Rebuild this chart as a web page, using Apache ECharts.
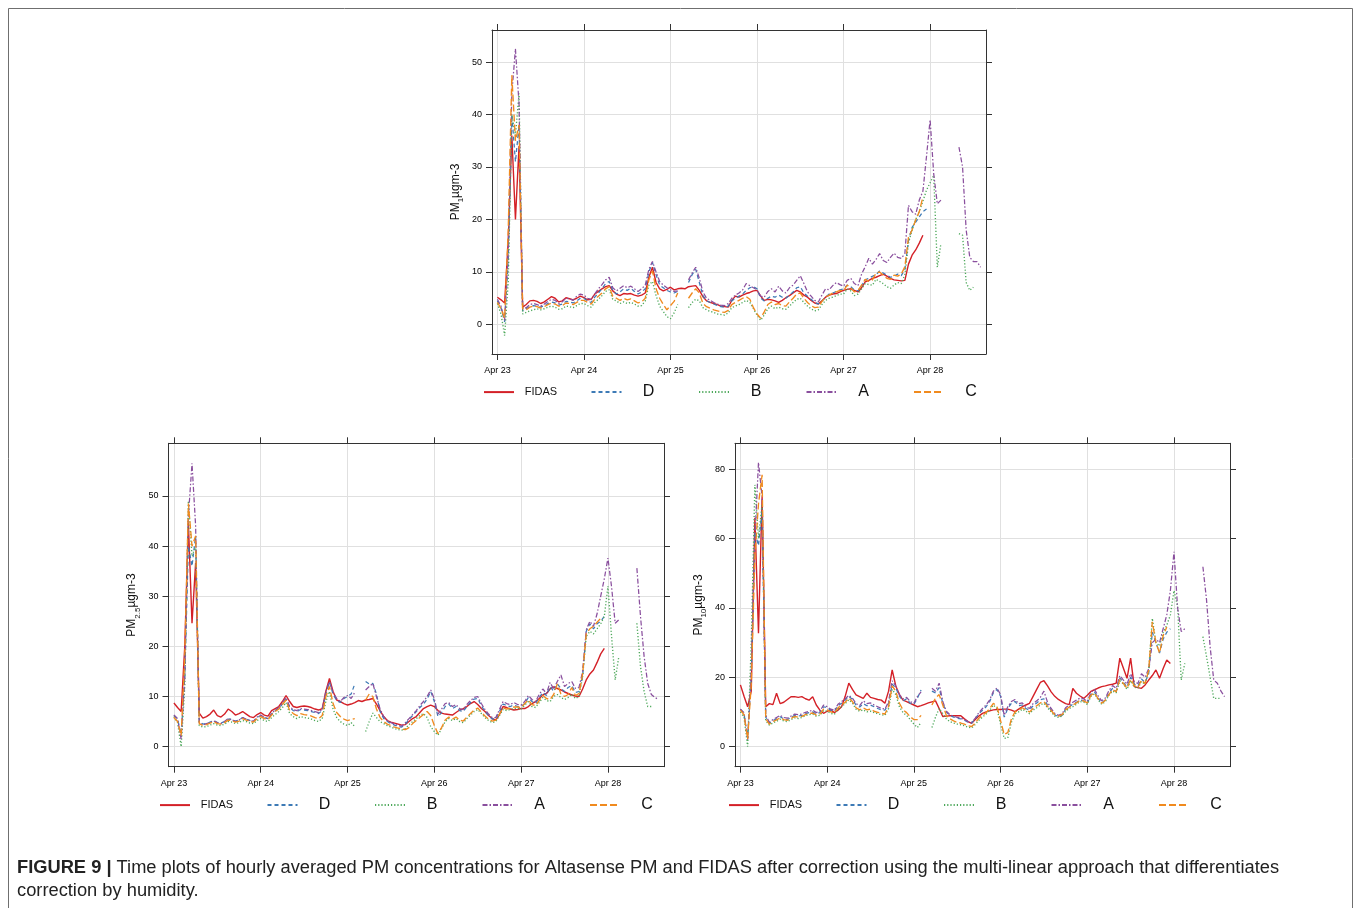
<!DOCTYPE html>
<html><head><meta charset="utf-8">
<script src="https://cdn.jsdelivr.net/npm/echarts@6/dist/echarts.min.js"></script>
<style>html,body{margin:0;padding:0;background:#fff}#c{width:1356px;height:908px}</style>
</head><body><div id="c"></div><script>
// hourly values, index = hours since Apr 23 00:00
const DAY_LABELS = ['Apr 23','Apr 24','Apr 25','Apr 26','Apr 27','Apr 28'];
const DAY_TICKS = [0,24,48,72,96,120];
const SERIES_NAMES = ['FIDAS','D','B','A','C'];
const PM1_TICKS = [0,10,20,30,40,50];
const PM25_TICKS = [0,10,20,30,40,50];
const PM10_TICKS = [0,20,40,60,80];

const PM1_FIDAS = [5.2,4.7,4.1,16,36,20,34,3.3,3.8,4.5,4.6,4.4,4.0,4.3,4.8,5.3,5.0,4.3,4.5,5.1,4.9,4.7,5.0,5.4,
5.1,4.7,4.8,5.8,6.3,6.8,7.2,7.4,6.4,5.8,5.5,5.9,5.8,5.9,5.6,5.4,5.6,6.0,9.0,10.9,8.0,6.8,6.4,6.7,
7.1,6.6,6.8,6.9,6.8,7.2,7.3,7.4,6.5,5.3,4.5,4.2,4.0,3.8,3.5,3.4,3.3,4.6,5.4,5.2,5.6,5.9,6.1,6.4,
6.5,5.4,4.6,4.8,4.7,4.5,4.2,4.6,5.1,5.5,6.0,6.5,6.2,5.6,5.2,4.6,4.1,3.9,4.5,5.2,5.6,5.8,5.9,6.2,
6.5,6.7,6.8,6.5,6.2,7.0,8.1,8.4,8.8,9.0,9.3,9.6,9.2,8.8,8.5,8.4,8.3,8.4,11.5,13.2,14.2,15.5,17.0];
const PM1_D = [4.5,3.2,0.5,12,40,31,38,2.6,3.0,3.4,3.6,3.5,3.3,3.6,4.0,4.3,4.1,3.7,3.9,4.4,4.3,4.1,4.5,5.0,
5.0,4.5,4.2,5.2,6.0,6.8,7.8,8.2,6.5,5.8,6.2,6.8,6.5,6.9,6.3,5.8,6.2,6.8,10.0,11.8,9.5,7.5,7.0,6.5,
6.2,6.0,6.3,null,null,8.0,9.5,10.5,8.0,5.5,4.5,4.2,3.9,3.6,3.4,3.3,3.5,4.5,5.0,5.4,5.8,6.5,7.0,7.2,
6.8,5.0,4.5,5.0,5.4,5.2,5.6,5.2,5.0,5.6,6.2,7.0,7.2,6.0,5.4,4.8,4.2,3.9,4.5,5.2,5.8,6.0,6.3,6.6,
6.8,7.5,7.2,6.6,6.4,7.4,8.5,8.8,9.2,9.5,10.2,9.8,9.4,9.0,9.2,9.6,9.3,10.5,16.0,18.5,19.5,20.5,21.5,22.0];
const PM1_B = [4.0,2.0,-2.1,8,40,36,44,2.0,2.3,2.6,2.8,3.0,2.8,3.0,3.3,3.5,3.3,2.9,3.0,3.5,3.4,3.2,3.6,4.0,
4.0,3.6,3.3,4.2,4.8,5.5,6.3,6.6,4.8,4.5,4.0,4.3,4.0,4.2,3.9,3.5,3.6,4.5,7.5,8.2,5.5,3.5,2.5,1.5,
1.1,2.2,3.8,null,null,3.2,4.2,4.8,4.5,3.2,2.8,2.5,2.3,2.0,1.9,1.8,2.2,3.2,3.5,3.8,4.2,4.6,4.2,3.0,
1.8,0.8,1.8,3.0,3.5,3.0,3.3,3.0,2.9,3.5,4.2,4.8,5.0,4.2,3.5,3.0,2.6,2.8,3.8,4.6,5.0,5.2,5.5,5.8,
5.8,6.8,6.4,5.5,5.8,6.8,7.8,7.6,7.5,8.6,8.2,7.8,7.2,6.9,7.5,8.0,7.8,9.5,15.5,18.0,20.0,21.5,23.5,25.6,
27.0,28.4,10.9,15.4,null,null,null,null,17.3,17.0,8.0,6.5,7.1];
const PM1_A = [4.8,3.5,0.8,14,44,52.5,42,3.0,3.2,3.8,4.0,3.8,3.5,3.9,4.4,4.8,4.6,4.0,4.3,5.0,4.9,4.6,5.4,5.8,
5.6,5.0,4.8,5.8,6.8,7.6,8.5,9.0,7.0,6.4,6.9,7.4,7.0,7.3,6.8,6.3,6.8,7.5,10.5,12.0,10.0,8.2,7.5,7.0,
6.6,6.3,6.4,null,null,8.5,9.8,10.9,8.8,6.2,5.0,4.6,4.2,3.9,3.7,3.6,4.0,5.0,5.6,6.0,6.6,7.8,7.4,7.0,
6.6,5.4,5.2,6.3,6.8,6.2,7.3,6.4,6.0,7.0,7.5,8.4,9.3,7.8,6.2,5.4,4.6,4.3,5.6,6.8,6.6,7.4,8.0,7.6,
7.3,8.4,8.8,7.8,7.4,9.6,11.0,12.6,11.5,12.4,13.5,12.2,11.8,12.8,13.6,12.8,12.6,13.5,22.7,21.5,21.0,23.7,25.4,32.0,
39.0,28.7,23.0,23.7,null,null,null,null,33.8,30.0,18.0,12.8,12.0,12.0,10.9];
const PM1_C = [4.2,3.0,1.2,18,47.5,35,38,3.0,2.8,3.3,3.5,3.4,3.1,3.4,3.8,4.1,3.9,3.5,3.6,4.1,4.0,3.8,4.2,4.6,
4.6,4.2,3.9,4.8,5.4,6.0,6.8,7.2,5.4,5.0,4.6,5.0,4.7,4.9,4.5,4.1,4.3,5.0,8.5,10.2,6.8,5.0,3.8,2.8,
3.6,4.4,6.0,null,null,5.0,6.0,6.8,6.0,4.0,3.4,3.1,2.8,2.6,2.4,2.3,2.7,3.8,4.2,4.6,5.0,5.3,4.8,3.2,
2.0,1.2,2.4,3.8,4.3,3.8,4.0,3.6,3.5,4.3,5.0,5.8,6.0,5.0,4.2,3.6,3.2,3.3,4.4,5.2,5.6,6.0,6.2,6.5,
6.4,7.5,7.0,6.2,6.5,7.5,8.6,8.2,8.5,9.8,10.0,9.4,8.8,8.6,9.4,9.2,9.6,11.0,16.6,18.0,19.9,21.5,24.3];

const PM25_FIDAS = [8.7,7.8,7.0,20,44.6,24.6,36.6,6.7,5.7,6.0,6.5,7.3,6.2,5.9,6.5,7.5,7.0,6.3,6.6,7.0,6.5,6.0,5.8,6.4,
6.8,6.3,6.1,7.2,7.6,8.0,9.0,10.2,9.0,8.0,7.8,8.0,8.1,8.0,7.8,7.5,7.3,7.6,11.0,13.6,11.0,9.3,9.0,8.6,
8.3,8.5,8.8,9.2,9.0,9.3,9.4,9.6,8.5,7.2,6.0,5.2,4.9,4.7,4.5,4.3,4.4,5.0,5.6,6.0,6.8,7.6,8.0,8.3,
8.0,7.2,6.7,6.5,6.4,6.3,6.8,7.3,7.6,8.0,8.6,9.0,8.4,7.6,7.0,6.2,5.6,5.3,6.4,8.0,7.8,7.5,7.3,7.4,
7.6,7.6,8.0,8.6,9.0,9.6,10.3,10.6,11.5,11.9,11.6,11.3,10.9,10.6,10.3,10.1,10.0,11.5,13.3,14.5,15.3,16.8,18.5,19.6];
const PM25_D = [6.2,5.5,2.5,14,40,36,42,5.0,4.5,4.6,4.9,5.2,4.8,4.7,5.0,5.5,5.4,5.1,5.3,5.8,5.5,5.2,5.0,5.8,
6.2,5.8,5.6,6.5,7.2,7.6,8.5,9.5,7.8,7.2,7.0,7.4,7.3,7.2,7.0,6.8,6.6,7.2,10.5,12.8,10.5,9.2,8.8,9.6,
10.0,10.5,12.5,null,null,13.0,12.5,12.6,10.5,7.0,5.6,5.0,4.6,4.3,4.0,3.9,4.5,5.4,6.2,7.0,7.8,8.5,9.5,11.0,
9.0,6.0,6.8,8.0,8.5,7.6,8.0,7.2,7.0,8.0,8.8,9.5,9.6,8.2,7.0,6.2,5.5,5.6,7.0,8.5,8.2,8.0,8.3,8.0,
8.0,8.6,9.8,9.0,8.6,9.8,10.8,10.2,12.0,11.0,12.5,11.6,11.0,11.8,12.2,10.8,11.0,14.0,23.0,24.5,23.5,24.5,25.0,26.0];
const PM25_B = [6.0,4.8,0.0,12,49,38,40,4.2,3.9,4.0,4.3,4.6,4.3,4.2,4.5,5.0,4.9,4.6,4.8,5.2,5.0,4.7,4.6,5.2,
5.6,5.2,5.0,5.8,6.4,7.0,7.8,8.8,6.6,6.0,5.6,6.0,5.8,5.7,5.5,5.2,5.0,5.6,9.0,11.0,7.5,5.8,5.0,4.5,
4.2,4.8,4.0,null,null,3.0,5.0,6.7,5.8,5.0,4.6,4.2,3.9,3.6,3.4,3.3,3.6,4.4,5.0,5.6,6.2,6.6,5.8,4.0,
3.0,2.3,3.6,5.0,5.6,5.2,5.6,5.0,4.8,5.6,6.3,7.0,7.4,6.6,5.8,5.2,4.8,5.0,6.2,7.4,7.2,7.4,7.6,7.6,
7.5,8.3,9.0,8.0,7.8,8.8,9.8,9.2,9.0,10.0,10.4,9.8,9.4,9.8,10.5,9.6,10.0,14.0,22.0,23.0,22.5,23.5,24.5,26.0,
32.0,22.0,13.3,17.9,null,null,null,null,24.6,16.0,11.0,8.0,8.0];
const PM25_A = [6.3,5.6,1.5,14,46,56.5,44,4.8,4.3,4.6,4.8,5.1,4.8,4.6,5.0,5.6,5.4,5.0,5.3,5.8,5.5,5.2,5.1,5.9,
6.3,5.8,5.6,6.6,7.3,7.8,8.8,9.8,8.0,7.4,7.2,7.6,7.5,7.4,7.2,7.0,6.8,7.5,11.0,13.0,10.8,9.6,9.0,9.8,
10.2,9.6,10.8,null,null,11.3,12.0,12.6,10.0,7.5,6.0,5.2,4.8,4.5,4.2,4.1,4.8,5.6,6.4,7.2,8.2,9.0,10.0,11.3,
9.5,6.5,7.5,8.6,8.8,8.0,8.4,7.6,7.4,8.4,9.2,9.8,10.0,8.6,7.4,6.5,5.8,5.8,7.4,9.0,8.6,8.4,8.8,8.4,
8.3,9.0,10.2,9.4,9.0,10.4,11.5,10.6,12.8,11.5,13.0,14.3,12.0,12.6,13.0,11.6,11.8,15.0,23.3,25.0,24.0,26.5,30.0,33.5,
37.6,31.9,24.6,25.3,null,null,null,null,35.6,26.0,18.0,12.6,10.4,9.8,9.4];
const PM25_C = [5.8,5.0,2.2,18,48.5,40,42,4.6,4.2,4.4,4.7,5.0,4.6,4.5,4.8,5.3,5.2,4.9,5.1,5.6,5.3,5.0,4.9,5.6,
6.0,5.6,5.4,6.3,7.0,7.5,8.4,9.3,7.2,6.6,6.2,6.6,6.4,6.3,6.1,5.8,5.6,6.2,10.0,12.0,8.6,6.8,6.0,5.5,
5.2,5.4,5.6,null,null,9.3,10.5,10.0,7.5,5.8,5.0,4.5,4.2,3.9,3.7,3.5,3.4,3.8,4.6,5.2,5.8,6.4,7.0,6.2,
4.2,2.6,3.8,5.3,5.9,5.5,5.9,5.3,5.1,5.9,6.6,7.3,7.7,6.9,6.1,5.5,5.1,5.3,6.5,7.7,7.5,7.7,7.9,7.9,
7.8,8.6,9.3,8.4,8.2,9.2,10.2,9.6,9.4,10.4,12.5,10.5,10.0,10.4,11.8,10.2,10.6,14.5,22.5,23.5,24.0,24.8,25.6];

const PM10_FIDAS = [17.8,14.5,11.5,16,66,32.7,72,11.5,12.4,12.1,15.4,12.4,12.8,13.6,14.4,14.4,14.2,14.4,13.8,13.4,14.4,12.0,10.5,9.6,
10.2,10.6,9.8,10.5,11.5,14.5,18.3,16.5,14.9,14.4,13.9,15.4,14.2,13.9,13.6,13.4,12.5,16.0,22.1,17.5,15.0,13.4,13.0,12.5,
12.0,11.5,11.8,12.2,12.6,12.9,13.2,11.0,8.7,8.8,8.9,8.9,8.9,8.9,8.0,7.2,6.7,7.8,8.8,9.6,10.0,10.3,10.6,10.7,
10.7,10.8,10.8,10.5,10.1,10.8,11.5,12.0,12.5,14.5,16.5,18.5,19.0,17.5,15.8,14.5,13.6,13.0,12.4,12.1,16.8,15.4,14.6,13.9,
14.8,15.9,16.4,16.9,17.3,17.5,17.8,18.0,18.3,25.5,22.6,19.7,25.5,17.3,17.0,16.8,17.8,19.2,20.5,22.1,19.7,22.5,25.0,24.0];
const PM10_D = [10.8,9.5,2.5,20,62,58,68,8.5,6.8,7.5,8.0,8.6,8.0,7.8,8.4,9.0,8.8,9.0,9.5,9.8,10.0,9.4,9.8,11.5,
11.2,10.5,10.2,11.8,12.5,13.4,14.5,13.6,12.0,11.4,12.4,11.8,12.0,11.5,11.0,10.6,10.5,12.5,18.0,17.0,14.5,13.2,13.8,12.5,
12.2,14.0,16.3,null,null,16.0,15.5,17.0,12.5,10.0,9.0,8.5,8.2,8.0,7.6,7.0,6.8,8.0,9.5,10.5,11.5,13.0,15.5,16.5,
14.5,8.5,11.0,12.5,13.0,11.8,12.0,11.0,10.5,11.8,12.6,13.5,13.8,12.0,10.5,9.2,8.6,9.0,10.8,11.5,12.2,12.8,13.5,13.2,
12.5,15.0,15.8,14.0,12.6,13.5,15.5,16.8,16.0,19.8,18.5,17.2,20.0,18.0,17.5,19.5,18.5,21.0,33.0,30.0,27.0,31.0,33.0,34.0];
const PM10_B = [10.0,8.5,0.0,30,75.5,60,70,7.5,6.2,6.8,7.3,7.9,7.4,7.2,7.8,8.3,8.1,8.4,8.9,9.2,9.4,8.8,9.0,10.4,
10.2,9.6,9.3,10.8,11.5,12.4,13.5,12.5,10.8,10.2,10.6,10.0,10.2,9.8,9.5,9.2,9.0,11.0,16.5,15.0,11.5,9.8,9.0,7.8,
6.5,5.5,7.0,null,null,5.5,8.5,11.0,9.5,8.0,7.2,6.8,6.5,6.3,6.0,5.6,5.4,6.4,7.6,8.5,9.4,10.5,12.0,11.0,
6.5,2.4,2.5,7.0,9.5,10.0,10.8,10.2,9.5,10.5,11.2,12.0,12.5,11.2,10.0,8.8,8.4,8.8,10.2,11.0,11.5,12.2,13.0,12.8,
12.2,14.5,15.2,13.5,12.2,13.0,14.8,16.0,15.5,19.0,18.0,16.5,19.0,17.2,16.8,18.8,18.0,22.0,37.0,30.0,29.0,33.0,35.0,38.0,
45.0,40.4,19.2,24.0,null,null,null,null,31.7,26.0,20.0,13.9,13.9,13.9];
const PM10_A = [10.8,9.8,2.0,22,60,82,72,9.0,7.0,7.8,8.4,9.0,8.4,8.2,8.8,9.4,9.2,9.4,9.9,10.2,10.5,9.8,10.2,12.0,
11.5,10.8,10.5,12.2,13.0,13.8,14.8,14.0,12.4,11.8,13.2,12.4,12.6,12.0,11.5,11.0,10.8,13.0,19.0,17.5,15.0,13.8,14.2,13.0,
12.5,14.5,15.8,null,null,16.8,16.0,18.3,13.0,10.2,9.2,8.8,8.4,8.2,7.8,7.2,7.0,8.2,9.8,11.0,12.0,13.5,16.0,16.9,
15.0,9.0,11.5,13.0,13.6,12.4,12.6,11.5,11.0,12.4,13.2,14.2,16.0,12.8,11.0,9.6,9.0,9.4,11.2,12.0,12.8,13.4,14.0,13.8,
13.0,15.6,16.5,14.6,13.2,14.0,16.2,17.6,16.8,20.5,19.2,18.0,21.0,18.8,18.2,21.0,20.0,22.5,30.0,31.0,30.0,34.0,38.0,45.0,
56.2,40.0,33.2,34.0,null,null,null,null,51.9,42.4,28.8,19.2,18.3,16.0,14.4];
const PM10_C = [10.5,9.2,2.2,18,55,70,78.4,8.0,6.5,7.2,7.7,8.3,7.8,7.6,8.1,8.7,8.5,8.7,9.2,9.5,9.7,9.1,9.4,10.8,
10.6,10.0,9.7,11.2,12.0,12.8,14.0,13.0,11.2,10.6,11.2,10.6,10.8,10.2,9.9,9.6,9.4,11.6,17.5,16.0,12.5,10.6,9.8,8.6,
7.8,7.8,9.0,null,null,12.0,14.0,15.0,12.0,9.0,8.0,7.4,7.0,6.8,6.5,6.0,5.8,6.8,8.2,9.0,9.8,11.0,12.5,11.6,
7.5,3.5,4.0,8.0,10.0,10.5,11.2,10.6,10.0,11.0,11.8,12.6,13.0,11.6,10.4,9.2,8.8,9.2,10.6,11.4,12.0,12.6,13.4,13.2,
12.6,14.8,15.5,13.8,12.5,13.4,15.0,16.5,15.8,19.4,18.2,16.8,19.5,17.6,17.0,19.2,18.2,22.0,36.0,30.0,27.0,32.0,34.5];

// ---------- styling / layout ----------
const FONT = "'Liberation Sans Narrow','Liberation Sans',Arial,sans-serif";
const CAP_FONT = "'Liberation Sans',Arial,sans-serif";
const STYLE = {
  FIDAS: {color:'#d42027', type:'solid', width:1.4},
  D: {color:'#3d7ab6', type:[4,3], width:1.25},
  B: {color:'#4da85a', type:[1.2,2], width:1.35},
  A: {color:'#8a4f9e', type:[5,2,1.5,2], width:1.25},
  C: {color:'#f08a1e', type:[7,3], width:1.35}
};
const X_MIN = -1.5, X_MAX = 135.5;
const LEGEND_PITCH = 107.5;
const panels = [
  {grid:{left:492, top:30, width:494, height:324}, yMin:-5.62, yMax:56.1, ticks:PM1_TICKS, sub:'1',
   legend:{left:483, top:384}, data:[PM1_FIDAS,PM1_D,PM1_B,PM1_A,PM1_C]},
  {grid:{left:168.5, top:443.3, width:495.5, height:323.4}, yMin:-4.0, yMax:60.5, ticks:PM25_TICKS, sub:'2.5',
   legend:{left:159, top:797}, data:[PM25_FIDAS,PM25_D,PM25_B,PM25_A,PM25_C]},
  {grid:{left:735, top:443.3, width:495, height:323.4}, yMin:-5.8, yMax:87.5, ticks:PM10_TICKS, sub:'10',
   legend:{left:728, top:797}, data:[PM10_FIDAS,PM10_D,PM10_B,PM10_A,PM10_C]}
];

const grid=[], xAxis=[], yAxis=[], series=[], legend=[];
const axLine = {show:true, onZero:false, lineStyle:{color:'#333', width:1}};
const tickStyle = {color:'#333', width:1};
panels.forEach((p, g) => {
  grid.push(Object.assign({show:false}, p.grid));
  xAxis.push({gridIndex:g, type:'value', position:'bottom', min:X_MIN, max:X_MAX,
    axisLine:axLine,
    axisTick:{show:true, customValues:DAY_TICKS, length:6, lineStyle:tickStyle},
    axisLabel:{show:true, customValues:DAY_TICKS, formatter:v=>DAY_LABELS[Math.round(v/24)],
      fontSize:9, color:'#000', margin:12.5, fontFamily:FONT},
    splitLine:{show:true, lineStyle:{color:'#e0e0e0', width:1}}});
  xAxis.push({gridIndex:g, type:'value', position:'top', min:X_MIN, max:X_MAX,
    axisLine:axLine,
    axisTick:{show:true, customValues:DAY_TICKS, length:6, lineStyle:tickStyle},
    axisLabel:{show:false}, splitLine:{show:false}});
  yAxis.push({gridIndex:g, type:'value', position:'left', min:p.yMin, max:p.yMax,
    axisLine:axLine,
    axisTick:{show:true, customValues:p.ticks, length:6, lineStyle:tickStyle},
    axisLabel:{show:true, customValues:p.ticks, fontSize:9, color:'#000', margin:10, fontFamily:FONT},
    splitLine:{show:true, lineStyle:{color:'#e0e0e0', width:1}},
    name:'{m|PM}{s|'+p.sub+'}{m|\u00b5gm-3}', nameLocation:'middle', nameGap:27,
    nameTextStyle:{color:'#111', fontFamily:FONT, rich:{
      m:{fontSize:12, fontFamily:FONT, color:'#111'},
      s:{fontSize:8, fontFamily:FONT, color:'#111', verticalAlign:'bottom', lineHeight:19}}}});
  yAxis.push({gridIndex:g, type:'value', position:'right', min:p.yMin, max:p.yMax,
    axisLine:axLine,
    axisTick:{show:true, customValues:p.ticks, length:6, lineStyle:tickStyle},
    axisLabel:{show:false}, splitLine:{show:false}});
  SERIES_NAMES.forEach((name, k) => {
    const st = STYLE[name];
    series.push({type:'line', name:name, xAxisIndex:g*2, yAxisIndex:g*2,
      data:p.data[k].map((v,i)=>[i,v]), symbol:'none', showSymbol:false, connectNulls:false,
      lineStyle:{color:st.color, width:st.width, type:st.type}, itemStyle:{color:st.color},
      animation:false, silent:true});
    // one legend entry per item, placed on a fixed pitch like the lattice key
    legend.push({left:p.legend.left + k*LEGEND_PITCH, top:p.legend.top + (name==='FIDAS' ? 2.5 : 0),
      padding:0, orient:'horizontal',
      itemWidth:30, itemHeight:14, data:[name], selectedMode:false,
      itemStyle:{opacity:0, borderWidth:0},
      formatter:n => n==='FIDAS' ? '{s|FIDAS}' : '{b|'+n+'}',
      textStyle:{color:'#111', rich:{
        s:{fontSize:11, width:44, align:'center', fontFamily:FONT, color:'#111'},
        b:{fontSize:16, width:44, align:'center', fontFamily:CAP_FONT, color:'#111'}}}});
  });
});

const chart = echarts.init(document.getElementById('c'), null, {renderer:'canvas'});
chart.setOption({
  animation:false, backgroundColor:'#fff',
  grid, xAxis, yAxis, series, legend,
  graphic:[
    {type:'rect', silent:true, shape:{x:8.5, y:8.5, width:1344, height:1000},
     style:{fill:null, stroke:'#6f6f6f', lineWidth:1}},
    {type:'text', left:17, top:859, silent:true, style:{
      text:'{b|FIGURE 9 |} Time plots of hourly averaged PM concentrations for Altasense PM and FIDAS after correction using the multi-linear approach that differentiates',
      fontSize:18.3, fontFamily:CAP_FONT, fill:'#222',
      rich:{b:{fontWeight:'bold', fontSize:18.3, fontFamily:CAP_FONT, fill:'#222'}}}},
    {type:'text', left:17, top:882, silent:true, style:{
      text:'correction by humidity.', fontSize:18.3, fontFamily:CAP_FONT, fill:'#222'}}
  ]
});
</script></body></html>
